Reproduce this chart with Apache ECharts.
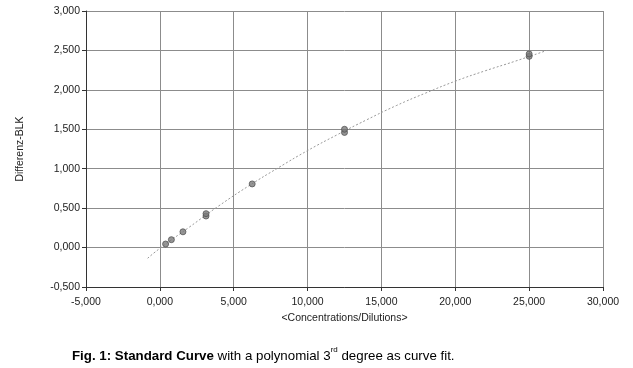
<!DOCTYPE html>
<html><head><meta charset="utf-8">
<script src="https://cdn.jsdelivr.net/npm/echarts@6/dist/echarts.min.js"></script>
<style>html,body{margin:0;padding:0;background:#fff}#c{width:633px;height:368px}</style>
</head><body><div id="c"></div>
<script>
// measured standards (concentration, Differenz-BLK)
const stdX = [0.39, 0.78, 1.5625, 3.125, 3.125, 6.25, 12.5, 12.5, 25, 25];
const stdY = [0.045, 0.100, 0.200, 0.400, 0.430, 0.807, 1.460, 1.500, 2.425, 2.455];
// fitted curve
const fitX = [-0.83, 0, 2, 4, 6, 8, 10, 12, 14, 16, 18, 20, 22, 24, 26.2];
const fitY = [-0.136, -0.01, 0.26, 0.53, 0.78, 1.01, 1.23, 1.43, 1.62, 1.80, 1.96, 2.11, 2.24, 2.36, 2.50];
const xTicks = [-5, 0, 5, 10, 15, 20, 25, 30];
const yTicks = [-0.5, 0, 0.5, 1, 1.5, 2, 2.5, 3];

const fmt = v => v.toFixed(3).replace('.', ',');
const chart = echarts.init(document.getElementById('c'));
const font = 'Liberation Sans, Arial, sans-serif';
chart.setOption({
  animation: false,
  grid: {left: 86, right: 30, top: 11, bottom: 81},
  xAxis: {
    type: 'value', min: xTicks[0], max: xTicks[xTicks.length-1], interval: 5,
    name: '<Concentrations/Dilutions>', nameLocation: 'middle', nameGap: 26,
    nameTextStyle: {fontFamily: font, fontSize: 10.5, color: '#222'},
    axisLine: {onZero: false, lineStyle: {color: '#333'}},
    axisTick: {show: true, length: 4, lineStyle: {color: '#333'}},
    axisLabel: {formatter: fmt, fontFamily: font, fontSize: 10.5, color: '#222', margin: 10},
    splitLine: {show: true, lineStyle: {color: '#8c8c8c', width: 1}}
  },
  yAxis: {
    type: 'value', min: yTicks[0], max: yTicks[yTicks.length-1], interval: 0.5,
    name: 'Differenz-BLK', nameLocation: 'middle', nameGap: 60, nameRotate: 90,
    nameTextStyle: {fontFamily: font, fontSize: 10.5, color: '#222'},
    axisLine: {show: true, onZero: false, lineStyle: {color: '#333'}},
    axisTick: {show: true, length: 4, lineStyle: {color: '#333'}},
    axisLabel: {formatter: fmt, fontFamily: font, fontSize: 10.5, color: '#222', margin: 6},
    splitLine: {show: true, lineStyle: {color: '#8c8c8c', width: 1}}
  },
  series: [
    {type: 'line', data: fitX.map((x, i) => [x, fitY[i]]), smooth: true, showSymbol: false,
     lineStyle: {color: '#999', width: 1, type: [2, 2]}, z: 2},
    {type: 'scatter', data: stdX.map((x, i) => [x, stdY[i]]), symbol: 'circle', symbolSize: 6,
     itemStyle: {color: '#7a7a7a', borderColor: '#555', borderWidth: 1}, z: 3}
  ],
  graphic: [{
    type: 'text', left: 72, top: 346,
    style: {
      text: '{b|Fig. 1: Standard Curve}{n| with a polynomial 3}{s|rd}{n| degree as curve fit.}',
      rich: {
        b: {fontFamily: font, fontSize: 13.3, fontWeight: 'bold', fill: '#000', lineHeight: 17, verticalAlign: 'bottom'},
        n: {fontFamily: font, fontSize: 13.3, fill: '#000', lineHeight: 17, verticalAlign: 'bottom'},
        s: {fontFamily: font, fontSize: 8, fill: '#000', lineHeight: 17, verticalAlign: 'top'}
      }
    }
  }]
});
</script></body></html>
